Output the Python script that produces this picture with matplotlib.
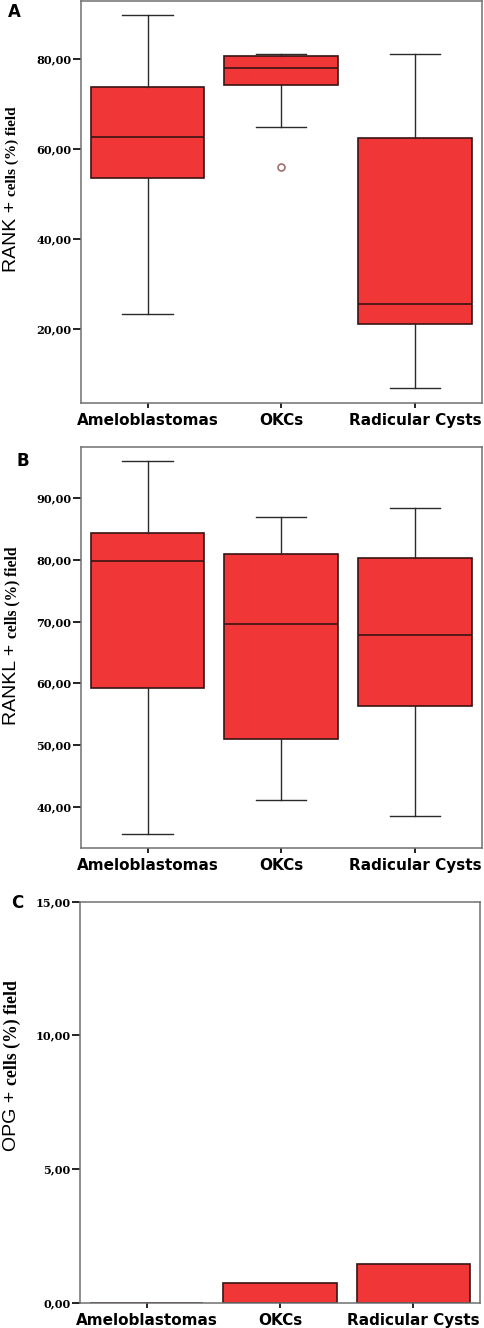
import numpy as np
import matplotlib.pyplot as plt

groups = ["Ameloblastomas", "OKCs", "Radicular Cysts"]
tick_names = ["Ameloblastomas", "OKCs", "Radicular Cysts"]

# panel A - RANK
rank_whislo = [23.5, 65.0, 7.0]
rank_q1 = [53.6, 74.3, 21.1]
rank_med = [62.7, 78.1, 25.6]
rank_q3 = [73.9, 80.7, 62.6]
rank_whishi = [89.8, 81.2, 81.2]
rank_fliers = [[], [56.0], []]

# panel B - RANKL
rankl_whislo = [35.6, 41.1, 38.5]
rankl_q1 = [59.3, 50.9, 56.3]
rankl_med = [79.9, 69.6, 67.8]
rankl_q3 = [84.4, 80.9, 80.3]
rankl_whishi = [96.05, 86.9, 88.5]
rankl_fliers = [[], [], []]

# panel C - OPG
opg_values = [0.0, 0.75, 1.43]

RED = "#F03636"
EDGE = "#3a1414"
W, H = 484, 1328

fig = plt.figure(figsize=(W / 100, H / 100), dpi=100)


def px_axes(left, right, top, bottom):
    return fig.add_axes([left / W, 1 - bottom / H, (right - left) / W, (bottom - top) / H])


def style_axes(ax, ylim, yticks):
    ax.set_xlim(0.5, 3.5)
    ax.set_ylim(*ylim)
    ax.set_yticks(yticks)
    ax.set_yticklabels([f"{t:.2f}".replace(".", ",") for t in yticks],
                       fontfamily="DejaVu Serif", fontweight="bold", fontsize=8.1)
    ax.set_xticks([1, 2, 3])
    ax.set_xticklabels(tick_names, fontfamily="DejaVu Sans", fontweight="bold", fontsize=11)
    ax.tick_params(axis="y", direction="out", length=5.8, width=1.4, color="#222222", pad=1)
    ax.tick_params(axis="x", direction="out", length=3.6, width=1.4, color="#222222", pad=3.5)
    for s in ax.spines.values():
        s.set_color("#707070")
        s.set_linewidth(1.1)


def box_panel(ax, whislo, q1, med, q3, whishi, fliers):
    stats = []
    for i in range(len(groups)):
        stats.append(dict(label=groups[i], whislo=whislo[i], q1=q1[i], med=med[i],
                          q3=q3[i], whishi=whishi[i], fliers=fliers[i]))
    ax.bxp(stats, positions=[1, 2, 3], widths=0.85, capwidths=0.375, patch_artist=True,
           boxprops=dict(facecolor=RED, edgecolor=EDGE, linewidth=1.2),
           medianprops=dict(color=EDGE, linewidth=1.2),
           whiskerprops=dict(color="#2a2a2a", linewidth=1.0),
           capprops=dict(color="#2a2a2a", linewidth=1.0),
           flierprops=dict(marker="o", markerfacecolor="none", markeredgecolor="#a07070",
                           markersize=5, markeredgewidth=1.2))


def ylabel(part1, part2, y_split, size1, size2):
    fig.text(12 / W, 1 - y_split / H, part1 + " ", rotation=90, ha="center", va="top",
             fontfamily="Liberation Sans", fontsize=size1)
    fig.text(12 / W, 1 - y_split / H, part2, rotation=90, ha="center", va="bottom",
             fontfamily="Liberation Serif", fontweight="bold", fontsize=size2)


# A
axA = px_axes(80.7, 481.7, 1, 403.3)
box_panel(axA, rank_whislo, rank_q1, rank_med, rank_q3, rank_whishi, rank_fliers)
style_axes(axA, (3.56, 92.96), [20, 40, 60, 80])
ylabel("RANK +", "cells (%) field", 196, 14, 11)
fig.text(14 / W, 1 - 12 / H, "A", ha="center", va="center", fontweight="bold", fontsize=12)

# B
axB = px_axes(80.7, 481.7, 446.7, 848)
box_panel(axB, rankl_whislo, rankl_q1, rankl_med, rankl_q3, rankl_whishi, rankl_fliers)
style_axes(axB, (33.3, 98.37), [40, 50, 60, 70, 80, 90])
ylabel("RANKL +", "cells (%) field", 638, 14, 11.2)
fig.text(22.5 / W, 1 - 461 / H, "B", ha="center", va="center", fontweight="bold", fontsize=12)

# C
axC = px_axes(80, 480, 901.7, 1302.7)
axC.bar([1, 2, 3], opg_values, width=0.85, color=RED, edgecolor=EDGE, linewidth=1.2)
style_axes(axC, (0, 15), [0, 5, 10, 15])
ylabel("OPG +", "cells (%) field", 1085, 14, 12.8)
fig.text(17.5 / W, 1 - 902.5 / H, "C", ha="center", va="center", fontweight="bold", fontsize=12)

fig.savefig("out.png", dpi=100)
